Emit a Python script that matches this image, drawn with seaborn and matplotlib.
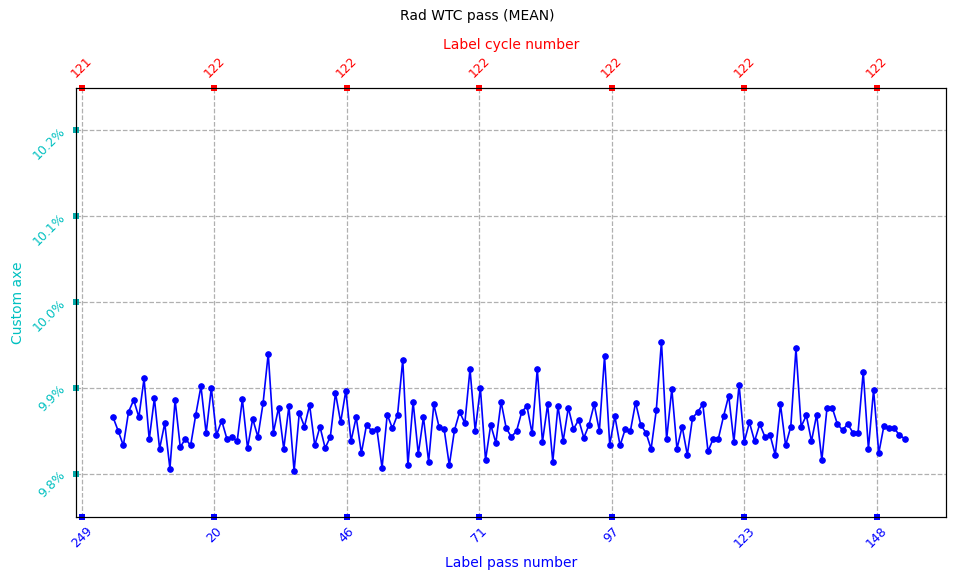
import matplotlib
matplotlib.use("Agg")
import matplotlib.pyplot as plt
import seaborn as sns
import numpy as np
import pandas as pd

values = [
9.866,9.850,9.833,9.872,9.886,9.866,9.911,9.840,9.888,9.829,9.859,9.806,9.886,9.831,9.841,9.833,9.869,9.902,9.847,9.900,
9.845,9.862,9.841,9.843,9.838,9.887,9.830,9.864,9.843,9.882,9.940,9.848,9.877,9.829,9.879,9.803,9.871,9.855,
9.880,9.833,9.855,9.830,9.843,9.894,9.860,9.897,9.838,9.866,9.824,9.857,9.850,9.852,9.807,9.869,9.853,9.869,9.933,9.810,
9.884,9.823,9.866,9.814,9.881,9.855,9.852,9.810,9.851,9.872,9.859,9.922,9.850,9.900,9.816,9.857,9.836,9.884,9.853,
9.843,9.850,9.872,9.879,9.847,9.922,9.837,9.881,9.814,9.879,9.838,9.877,9.852,9.863,9.842,9.857,9.881,9.850,9.937,9.834,
9.867,9.833,9.852,9.850,9.883,9.857,9.848,9.829,9.874,9.954,9.840,9.899,9.829,9.855,9.822,9.865,9.872,9.881,9.826,
9.841,9.841,9.867,9.891,9.837,9.904,9.837,9.860,9.838,9.858,9.843,9.845,9.822,9.881,9.833,9.855,9.946,9.855,9.868,9.838,
9.869,9.816,9.877,9.877,9.858,9.851,9.858,9.848,9.848,9.919,9.829,9.898,9.824,9.856,9.853,9.853,9.845,9.841,
]
first_index = 6
tick_pos = [0, 25.6, 51.2, 76.8, 102.4, 128.0, 153.6]
pass_labels = ["249", "20", "46", "71", "97", "123", "148"]
cycle_labels = ["121", "122", "122", "122", "122", "122", "122"]
y_ticks = [9.8, 9.9, 10.0, 10.1, 10.2]
y_labels = ["9.8%", "9.9%", "10.0%", "10.1%", "10.2%"]

df = pd.DataFrame({"x": np.arange(first_index, first_index + len(values)), "y": values})

fig = plt.figure(figsize=(9.55, 5.8), dpi=100)
ax = fig.add_axes([0.0796, 0.109, 0.911, 0.739])
sns.lineplot(data=df, x="x", y="y", ax=ax, color="blue", marker="o", markersize=4,
             markeredgecolor="blue", linewidth=1.2)
ax.set_xlim(-1.15, 167.0)
ax.set_ylim(9.75, 10.249)

teal = "#00c0c0"
ax.set_xticks(tick_pos)
ax.set_xticklabels(pass_labels, rotation=45, color="blue", fontsize=9)
ax.set_yticks(y_ticks)
ax.set_yticklabels(y_labels, rotation=45, color=teal, fontsize=9)
ax.tick_params(axis="x", colors="blue", length=4.3, width=4.3, direction="inout", labelcolor="blue")
ax.tick_params(axis="y", colors="#00a8a8", length=4.3, width=4.3, direction="inout", labelcolor=teal)
ax.set_xlabel("Label pass number", color="blue", fontsize=10)
ax.set_ylabel("Custom axe", color=teal, fontsize=10)
ax.grid(True, linestyle="--", color="#b0b0b0", linewidth=0.9)

top = ax.twiny()
top.set_xlim(ax.get_xlim())
top.set_xticks(tick_pos)
top.set_xticklabels(cycle_labels, rotation=45, color="red", fontsize=9)
top.tick_params(axis="x", colors="red", length=4.3, width=4.3, direction="inout", labelcolor="red")
top.set_xlabel("Label cycle number", color="red", fontsize=10)
fig.suptitle("Rad WTC pass (MEAN)", y=0.985, fontsize=10)
fig.savefig("out.png")
